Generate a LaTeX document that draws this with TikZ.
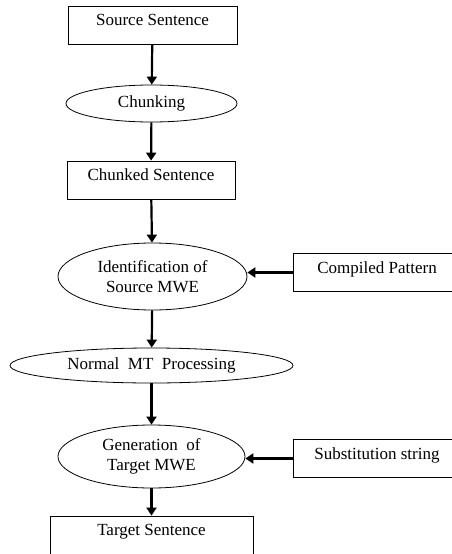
\documentclass[tikz,border=0pt]{standalone}
\usepackage{fontspec}
\setmainfont{Liberation Serif}
\usetikzlibrary{shapes.geometric, arrows.meta}

\begin{document}
\begin{tikzpicture}[x=1pt, y=-1pt,
        font=\fontsize{17}{20}\selectfont,
        stepbox/.style={draw, line width=0.8pt, rectangle, inner sep=0pt, text height=19.5pt, text depth=18.5pt},
        stepoval/.style={draw, line width=0.8pt, ellipse, inner sep=0pt, align=center},
        flow/.style={line width=2.2pt, -{Triangle[length=8pt, width=10pt]}}]
            %\draw[lightgray] (0, 0) grid (452, 554);
            \clip (0, 0) rectangle (452, 554);
            \node[stepbox, minimum width=169pt] (src) at (152.5, 25) {Source Sentence};
            \node[stepoval, minimum width=171pt, minimum height=37pt] (chunk) at (151.5, 103.5) {Chunking};
            \node[stepbox, minimum width=168pt] (chunked) at (151, 180) {Chunked Sentence};
            \node[stepoval, minimum width=189pt, minimum height=67pt] (ident) at (152.5, 276.5) {Identification of\\Source MWE};
            \node[stepoval, minimum width=283pt, minimum height=35pt] (normal) at (151.5, 365.5) {Normal~~MT~~Processing};
            \node[stepoval, minimum width=187pt, minimum height=63pt] (gen) at (151.5, 456.5) {Generation~~of\\Target MWE};
            \node[stepbox, minimum width=203pt] (tgt) at (151.5, 535) {Target Sentence};
            \node[stepbox, minimum width=168pt] (pattern) at (377, 272.5) {Compiled Pattern};
            \node[stepbox, minimum width=168pt] (subst) at (377, 458.5) {Substitution string};
            \draw[flow] (src) -- (chunk);
            \draw[flow] (chunk) -- (chunked);
            \draw[flow] (chunked) -- (ident);
            \draw[flow] (ident) -- (normal);
            \draw[flow] (normal) -- (gen);
            \draw[flow] (gen) -- (tgt);
            \draw[flow] (pattern.west) -- (ident.east |- pattern.west);
            \draw[flow] (subst.west) -- (gen.east |- subst.west);
        \end{tikzpicture}
\end{document}
